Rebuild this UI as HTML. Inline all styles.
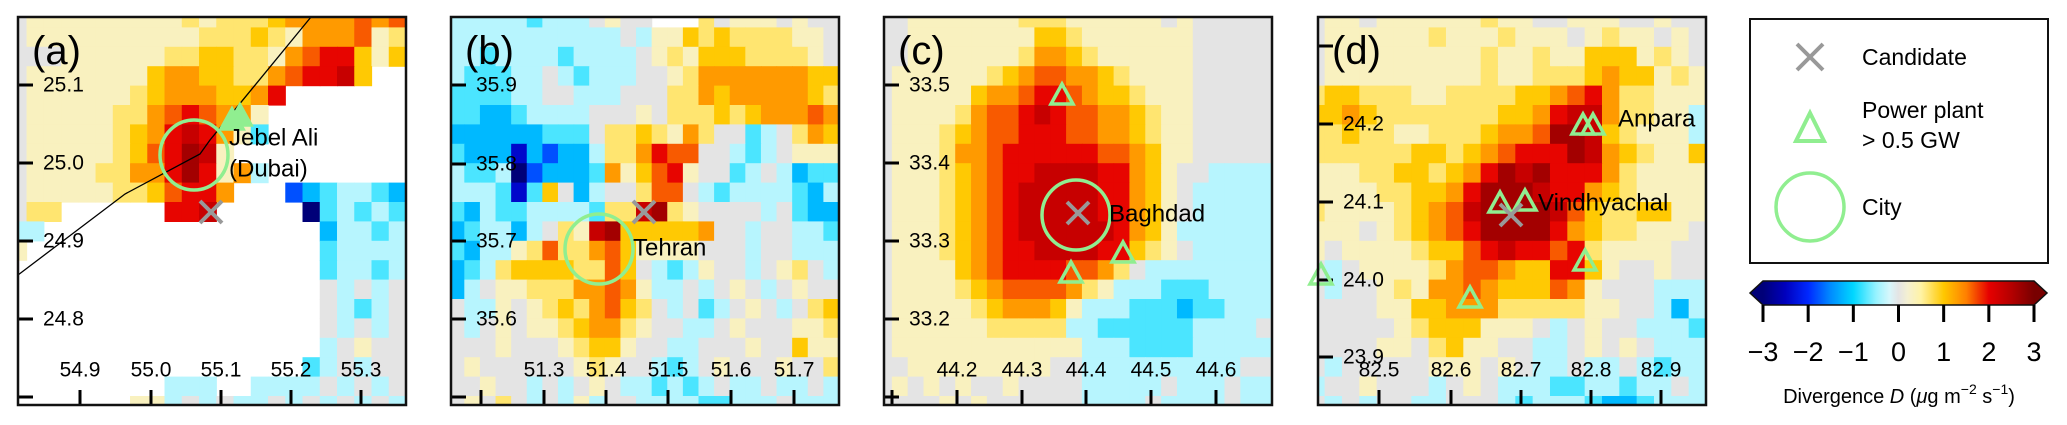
<!DOCTYPE html>
<html><head><meta charset="utf-8"><style>
html,body{margin:0;padding:0;background:#fff;}
svg{display:block;font-family:"Liberation Sans",sans-serif;}
</style></head><body>
<svg id="fig" width="2067" height="425" viewBox="0 0 2067 425" xmlns="http://www.w3.org/2000/svg"></svg>
<script>
// ---- data ----
// cell codes: '.' = no data, digits 0..8 -> value = d*0.33, letters a..f -> negative values
const codeLetters = ['a','b','c','d','e','f'];
const codeNegValues = [-0.35,-0.75,-1.2,-1.8,-2.4,-3];
const gridA = [
"01111111112122234444545","01111111111222321444512","00011111122332214566313","011111113443322456673..",
"0111111234443346.......","011111224565441........","01111123467641b........","0111112356871..........",
"01111224468614a........","0111112235664...dcbaabc","022......667.....fbabab","aa................caaba",
"1.................baaaa","..................baaba","..................0a0a0","..................0aba0",
"..................0a0a0","..................a0100",".................ba0a00",".........aaa..aaaa0a0a0",
".......11a0a0aa0a0a0a0a"];
const gridB = [
"aaaaabaaa0100...201110100","aaaaaaaaaaa0a113232222110","aabaaaabaaaa0121333222210","abbbaa0abaaa0012444444433",
"bbbbaa00aaa00022434444432","bbccbaaaa0001022232344454","ccccccbbb0223214200ba0243","bcccecdcca22465500aba0111",
"abbafdcccb41356100ba0acbb","aaabeb30ca002550abaaaabca","bcabbaaaab2278210000a0bcc","cbaaca0217833333400a00aab",
"bcaa125224531111000a00aaa","cba2333322530aba100a0120a","ca01122244541aa0a010a0100","0aa10123245320a0ba010a023",
"0a0101123442100aa01000112","00010001233100aa000100311","0100000012100aba010001002","00100a0a010aababa0aa0aa0a",
"01020a0a1a00aaaabbaaa0aaa"];
const gridC = [
"0011111112221111110100000","0011111111332111111100000","0011111112443211111100000","0111111234554432111100000",
"0111113445665433211100000","0111124556765544321100000","0111234556665544321100000","0111244566666655431100000",
"011123456677776643100aaaa","01112345677777664310aaaaa","01112345677777664310aaaaa","0111234567777776431aaaaaa",
"01112345667777663210aaaaa","01111345666655420aaaaaaaa","011112345555421aaabbbaaaa","0111112344431aaabbbcbbaaa",
"011111122222aabbbbbbaaaa0","0111111111111aaabbbbaaaaa","0011111111100aaaaaaaaaa00","0101010010000aaaaa0aaa0aa",
"0000101000000aaaa0aaaa0aa"];
const gridD = [
"01101111112110011100100","01111112111211101211010","01111111112112113331210","01111111112112223433121",
"23322211222233456422111","3343222222233467742211a","2232211222344588732111a","22222233234566687432113",
"11122332346878666421111","11112233468887664321111","21111234578888753223311","11101234568888643221110",
"10111123356766562111100","0a011112455433663100100","0a001214454333541000aaa","00001133444222221100aca",
"00000123331110a0100aaab","0000110231100aa01010aaa","0a00000111010aa0aa0abaa","a001000a010aaabbaabaa0a",
"0a0a00aa000abaaabccbaaa"];
const panelLetters = ['(a)','(b)','(c)','(d)'];
const yTickLabelsA = ['25.1','25.0','24.9','24.8',''];
const yTickLabelsB = ['35.9','35.8','35.7','35.6',''];
const yTickLabelsC = ['33.5','33.4','33.3','33.2',''];
const yTickLabelsD = ['','24.2','24.1','24.0','23.9'];
const xTickLabelsA = ['54.9','55.0','55.1','55.2','55.3'];
const xTickLabelsB = ['','51.3','51.4','51.5','51.6','51.7'];
const xTickLabelsC = ['','44.2','44.3','44.4','44.5','44.6'];
const xTickLabelsD = ['82.5','82.6','82.7','82.8','82.9'];
const cbarTicks = [-3,-2,-1,0,1,2,3];
const cbarTickLabels = ['\u22123','\u22122','\u22121','0','1','2','3'];

// ---- colormap ----
const cmStops=[[-3,[0,0,120]],[-2.5,[0,0,190]],[-2,[0,40,255]],[-1.5,[0,140,255]],[-1,[0,215,255]],[-0.5,[150,243,255]],[-0.2,[215,247,252]],[0,[228,228,228]],[0.2,[244,240,210]],[0.5,[255,243,165]],[1,[255,200,0]],[1.5,[255,128,0]],[2,[230,0,0]],[2.5,[180,0,0]],[3,[120,0,0]]];
function cmap(v){
  v=Math.max(-3,Math.min(3,v));
  for(let i=1;i<cmStops.length;i++){
    const a=cmStops[i-1],b=cmStops[i];
    if(v<=b[0]){const t=b[0]===a[0]?1:(v-a[0])/(b[0]-a[0]);
      const c=a[1].map((x,j)=>Math.round(x+(b[1][j]-x)*t));return `rgb(${c[0]},${c[1]},${c[2]})`;}
  }
  return 'rgb(120,0,0)';
}
function decode(ch){
  if(ch==='.') return null;
  const li=codeLetters.indexOf(ch);
  if(li>=0) return codeNegValues[li];
  return parseInt(ch,10)*0.33;
}

const NS='http://www.w3.org/2000/svg';
const svg=document.getElementById('fig');
function el(tag,attrs,parent){const e=document.createElementNS(NS,tag);for(const k in attrs)e.setAttribute(k,attrs[k]);(parent||svg).appendChild(e);return e;}
function txt(s,attrs,parent){const t=el('text',attrs,parent);t.textContent=s;return t;}

const defs=el('defs',{});
const panels=[
 {x:18,grid:gridA,cx0:-8.7,yt:yTickLabelsA,ypos:[68,146,224,302,380],xt:xTickLabelsA,xpos:[62,133,203,273,343]},
 {x:451,grid:gridB,cx0:-2.3,yt:yTickLabelsB,ypos:[68,147,224,302,380],xt:xTickLabelsB,xpos:[30,93,155,217,280,343]},
 {x:884,grid:gridC,cx0:-8,yt:yTickLabelsC,ypos:[68,146,224,302,380],xt:xTickLabelsC,xpos:[8,73,138,202,267,332]},
 {x:1318,grid:gridD,cx0:-10.7,yt:yTickLabelsD,ypos:[29,107,185,263,340],xt:xTickLabelsD,xpos:[61,133,203,273,343]}
];
const PY=17,PS=388;
function tri(g,cx,cy,name,filled){
  const w=22,h=20;
  const p=el('polygon',{points:`${cx-w/2},${cy+h/2} ${cx+w/2},${cy+h/2} ${cx},${cy-h/2}`,fill:filled?'#90ee90':'none',stroke:'#90ee90','stroke-width':3.5,'stroke-linejoin':'miter'},g);
  
  
}
function cross(g,cx,cy,name,s){
  s=s||11;
  const c=el('g',{stroke:'#999','stroke-width':4},g);
  
  
  el('line',{x1:cx-s,y1:cy-s,x2:cx+s,y2:cy+s},c);el('line',{x1:cx-s,y1:cy+s,x2:cx+s,y2:cy-s},c);
}
function circ(g,cx,cy,name,r){
  const c=el('ellipse',{cx:cx,cy:cy,rx:r||34,ry:r||35,fill:'none',stroke:'#90ee90','stroke-width':3.5},g);
  
  
}
function label(g,s,x,y,name,size){
  const t=txt(s,{x:x,y:y,'font-size':size||23,'dominant-baseline':'central',fill:'#000'},g);
  
  
}

panels.forEach((P,pi)=>{
  const g=el('g',{transform:`translate(${P.x},${PY})`});
  
  
  const cp=el('clipPath',{id:'cp'+pi},defs);el('rect',{x:0,y:0,width:PS,height:PS},cp);
  const hm=el('g',{'clip-path':`url(#cp${pi})`},g);
  
  
  const rows=P.grid.length, cols=P.grid[0].length;
  const ch=PS/(rows-1), cw=(PS-P.cx0)/cols;
  const cy0=-9;
  for(let r=0;r<rows;r++){
    for(let c=0;c<cols;c++){
      const v=decode(P.grid[r][c]);
      if(v===null) continue;
      const rc=el('rect',{x:(P.cx0+c*cw).toFixed(2),y:(cy0+r*ch).toFixed(2),width:(cw+0.6).toFixed(2),height:(ch+0.6).toFixed(2),fill:cmap(v)},hm);
      
      
    }
  }
  P.ypos.forEach((y,i)=>{
    el('line',{x1:0,y1:y,x2:15,y2:y,stroke:'#000','stroke-width':3},g);
    if(P.yt[i]){const t=txt(P.yt[i],{x:25,y:y,'font-size':21,'dominant-baseline':'central'},g);
      }
  });
  P.xpos.forEach((x,i)=>{
    el('line',{x1:x,y1:PS,x2:x,y2:PS-15,stroke:'#000','stroke-width':3},g);
    if(P.xt[i]){const t=txt(P.xt[i],{x:x,y:353,'font-size':21,'text-anchor':'middle','dominant-baseline':'central'},g);
      }
  });
  const pl=txt(panelLetters[pi],{x:14,y:34,'font-size':40,'dominant-baseline':'central'},g);
  
  
  P.g=g;
});
{const g=panels[0].g;
 const cl=el('polyline',{points:'0,258 107,177 182,137 192,123 293,0',fill:'none',stroke:'#000','stroke-width':1.3},g);
 
 circ(g,176,138,'city-dubai');cross(g,193,195,'candidate-a');
 tri(g,214,102,'power-plant-jebel-ali',true);tri(g,222,98,'power-plant-jebel-ali-2',true);
 label(g,'Jebel Ali',211,121,'label-jebel-ali',24);label(g,'(Dubai)',211,152,'label-dubai',24);}
{const g=panels[1].g;
 circ(g,148,232,'city-tehran');cross(g,193,195,'candidate-b');
 label(g,'Tehran',182,231,'label-tehran',24);}
{const g=panels[2].g;
 circ(g,192,198,'city-baghdad');cross(g,194,196,'candidate-c');
 tri(g,178,77,'power-plant-c1');tri(g,239,235,'power-plant-c2');tri(g,187,255,'power-plant-c3');
 label(g,'Baghdad',225,197,'label-baghdad',24);}
{const g=panels[3].g;
 tri(g,265,107,'power-plant-anpara-1');tri(g,275,107,'power-plant-anpara-2');
 tri(g,182,185,'power-plant-vindhyachal-1');tri(g,207,183,'power-plant-vindhyachal-2');
 tri(g,267,243,'power-plant-d5');tri(g,152,280,'power-plant-d6');tri(g,3,257,'power-plant-d7');
 cross(g,193,198,'candidate-d');
 label(g,'Anpara',300,102,'label-anpara',24);label(g,'Vindhyachal',220,186,'label-vindhyachal',24);}
panels.forEach((P,pi)=>{
  const b=el('rect',{x:P.x,y:PY,width:PS,height:PS,fill:'none',stroke:'#111','stroke-width':2.5});
  
  
});

{const g=el('g',{});
 
 
 el('rect',{x:1750,y:19,width:298,height:244,fill:'#fff',stroke:'#111','stroke-width':2},g);
 cross(g,1810,57,'legend-candidate-marker',13);
 label(g,'Candidate',1862,57,'legend-candidate',23);
 const tp=el('polygon',{points:'1796,141 1824,141 1810,113',fill:'none',stroke:'#90ee90','stroke-width':4},g);
 
 
 label(g,'Power plant',1862,110,'legend-power-plant',23);
 label(g,'> 0.5 GW',1862,140,'legend-power-plant-size',23);
 circ(g,1810,207,'legend-city-marker',34);
 label(g,'City',1862,207,'legend-city',23);}

{const g=el('g',{});
 
 
 const x0=1763,x1=2034,y0=281,y1=305;
 const grad=el('linearGradient',{id:'cbg',x1:0,y1:0,x2:1,y2:0},defs);
 for(let i=0;i<=60;i++){const v=-3+i*0.1;el('stop',{offset:(i/60).toFixed(3),'stop-color':cmap(v)},grad);}
 el('polygon',{points:`1750,293 ${x0},${y0} ${x0},${y1}`,fill:cmap(-3)},g);
 el('polygon',{points:`2047,293 ${x1},${y0} ${x1},${y1}`,fill:cmap(3)},g);
 el('rect',{x:x0,y:y0,width:x1-x0,height:y1-y0,fill:'url(#cbg)'},g);
 el('polygon',{points:`1750,293 ${x0},${y0} ${x1},${y0} 2047,293 ${x1},${y1} ${x0},${y1}`,fill:'none',stroke:'#111','stroke-width':1.5},g);
 const sx=v=>x0+(v+3)/6*(x1-x0);
 cbarTicks.forEach((v,i)=>{
   el('line',{x1:sx(v),y1:y1,x2:sx(v),y2:322,stroke:'#000','stroke-width':3},g);
   const t=txt(cbarTickLabels[i],{x:sx(v),y:352,'font-size':27,'text-anchor':'middle','dominant-baseline':'central'},g);
   
   
 });
 const lt=el('text',{x:1899,y:397,'font-size':20,'text-anchor':'middle','dominant-baseline':'central'},g);
 
 
 lt.innerHTML='Divergence <tspan font-style="italic">D</tspan> (<tspan font-style="italic">μ</tspan>g m<tspan dy="-8" font-size="14">\u22122</tspan><tspan dy="8"> s</tspan><tspan dy="-8" font-size="14">\u22121</tspan><tspan dy="8">)</tspan>';
}
</script>
</body></html>
